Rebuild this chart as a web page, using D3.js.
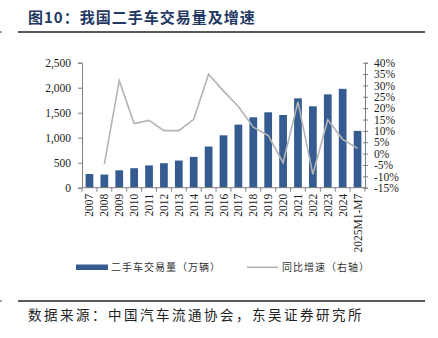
<!DOCTYPE html>
<html>
<head>
<meta charset="utf-8">
<script src="https://cdn.jsdelivr.net/npm/d3@7"></script>
<style>
  html, body { margin: 0; padding: 0; background: #fff; }
  svg { display: block; }
</style>
</head>
<body>
<div id="chart"></div>
<script>
// 二手车交易量及增速
var years = ['2007', '2008', '2009', '2010', '2011', '2012', '2013', '2014', '2015', '2016',
             '2017', '2018', '2019', '2020', '2021', '2022', '2023', '2024', '2025M1-M7'];
var volume = [273, 262, 348, 390, 446, 490, 543, 616, 823, 1048,
              1262, 1408, 1508, 1454, 1787, 1628, 1867, 1977, 1137];
var growth = [null, -4.6, 32.1, 13.2, 14.6, 10.1, 10.1, 15.1, 34.9, 27.5,
              20.7, 11.6, 8.0, -4.0, 22.8, -9.1, 14.9, 6.3, 2.3];
var leftTicks = [0, 500, 1000, 1500, 2000, 2500];
var rightTicks = [-15, -10, -5, 0, 5, 10, 15, 20, 25, 30, 35, 40];

var W = 438, H = 338;
var svg = d3.select('#chart').append('svg')
  .attr('width', W).attr('height', H);

var serif = '"Liberation Serif", "Times New Roman", serif';
var cjk = '"Noto Sans CJK SC", sans-serif';

// title and rules
svg.append('text')
  .attr('x', 28).attr('y', 23)
  .attr('fill', '#1f3864')
  .attr('font-family', cjk)
  .attr('font-weight', 'bold')
  .attr('font-size', '15px')
  .attr('letter-spacing', '1px')
  .text('图10：我国二手车交易量及增速');

[32, 301].forEach(function(y) {
  svg.append('line').attr('x1', 18).attr('x2', 425).attr('y1', y).attr('y2', y)
    .attr('stroke', '#222').attr('stroke-width', 1.5);
  svg.append('line').attr('x1', 0).attr('x2', 2).attr('y1', y).attr('y2', y)
    .attr('stroke', '#444').attr('stroke-width', 1);
});

svg.append('text')
  .attr('x', 28).attr('y', 320)
  .attr('fill', '#222')
  .attr('font-family', cjk)
  .attr('font-size', '13.5px')
  .attr('letter-spacing', '2.5px')
  .text('数据来源：中国汽车流通协会，东吴证券研究所');

// scales
var x = d3.scaleBand().domain(years).range([82, 365]).paddingInner(0.48).paddingOuter(0.24);
var yL = d3.scaleLinear().domain([0, 2500]).range([187.7, 62.7]);
var yR = d3.scaleLinear().domain([-15, 40]).range([187.7, 62.7]);

// bars
svg.append('g').selectAll('rect')
  .data(volume)
  .enter().append('rect')
  .attr('x', function(d, i) { return x(years[i]); })
  .attr('y', function(d) { return yL(d); })
  .attr('width', x.bandwidth())
  .attr('height', function(d) { return yL(0) - yL(d); })
  .attr('fill', '#355c91');

// growth line
var line = d3.line()
  .defined(function(d) { return d != null; })
  .x(function(d, i) { return x(years[i]) + x.bandwidth() / 2; })
  .y(function(d) { return yR(d); });

svg.append('path')
  .datum(growth)
  .attr('d', line)
  .attr('fill', 'none')
  .attr('stroke', '#b3b3b3')
  .attr('stroke-width', 1.6);

// left axis
var gL = svg.append('g').attr('transform', 'translate(82,0)')
  .call(d3.axisLeft(yL).tickValues(leftTicks).tickFormat(d3.format(',')).tickSize(4).tickPadding(7));
// right axis
var gR = svg.append('g').attr('transform', 'translate(365,0)')
  .call(d3.axisRight(yR).tickValues(rightTicks).tickFormat(function(d) { return d + '%'; }).tickSize(3).tickPadding(6));

[gL, gR].forEach(function(g) {
  g.select('.domain').attr('stroke', '#7f7f7f');
  g.selectAll('.tick line').attr('stroke', '#7f7f7f');
  g.selectAll('text').attr('font-family', serif).attr('font-size', '11.5px').attr('fill', '#222');
});
gR.selectAll('.tick line').attr('x1', -2);

// x axis
var gX = svg.append('g').attr('transform', 'translate(0,' + yL(0) + ')');
gX.append('line').attr('x1', 82).attr('x2', 365).attr('stroke', '#7f7f7f');
var step = x.step();
var bounds = d3.range(years.length + 1).map(function(i) { return 82 + i * (283 / years.length); });
gX.selectAll('.xt').data(bounds).enter().append('line')
  .attr('x1', function(d) { return d; }).attr('x2', function(d) { return d; })
  .attr('y1', 0).attr('y2', 4)
  .attr('stroke', '#7f7f7f');
gX.selectAll('.xl').data(years).enter().append('text')
  .attr('transform', function(d) {
    return 'translate(' + (x(d) + x.bandwidth() / 2 + 4) + ',6) rotate(-90)';
  })
  .attr('text-anchor', 'end')
  .attr('font-family', serif)
  .attr('font-size', '11.5px')
  .attr('fill', '#222')
  .text(function(d) { return d; });

// legend
var lg = svg.append('g');
lg.append('rect').attr('x', 76).attr('y', 264.5).attr('width', 32).attr('height', 5.5).attr('fill', '#355c91');
lg.append('text').attr('x', 111).attr('y', 271)
  .attr('font-family', cjk).attr('font-size', '10px').attr('letter-spacing', '1px').attr('fill', '#333')
  .text('二手车交易量（万辆）');
lg.append('line').attr('x1', 247).attr('x2', 278).attr('y1', 267.3).attr('y2', 267.3)
  .attr('stroke', '#b3b3b3').attr('stroke-width', 1.6);
lg.append('text').attr('x', 282).attr('y', 271)
  .attr('font-family', cjk).attr('font-size', '10px').attr('letter-spacing', '1px').attr('fill', '#333')
  .text('同比增速（右轴）');
</script>
</body>
</html>
